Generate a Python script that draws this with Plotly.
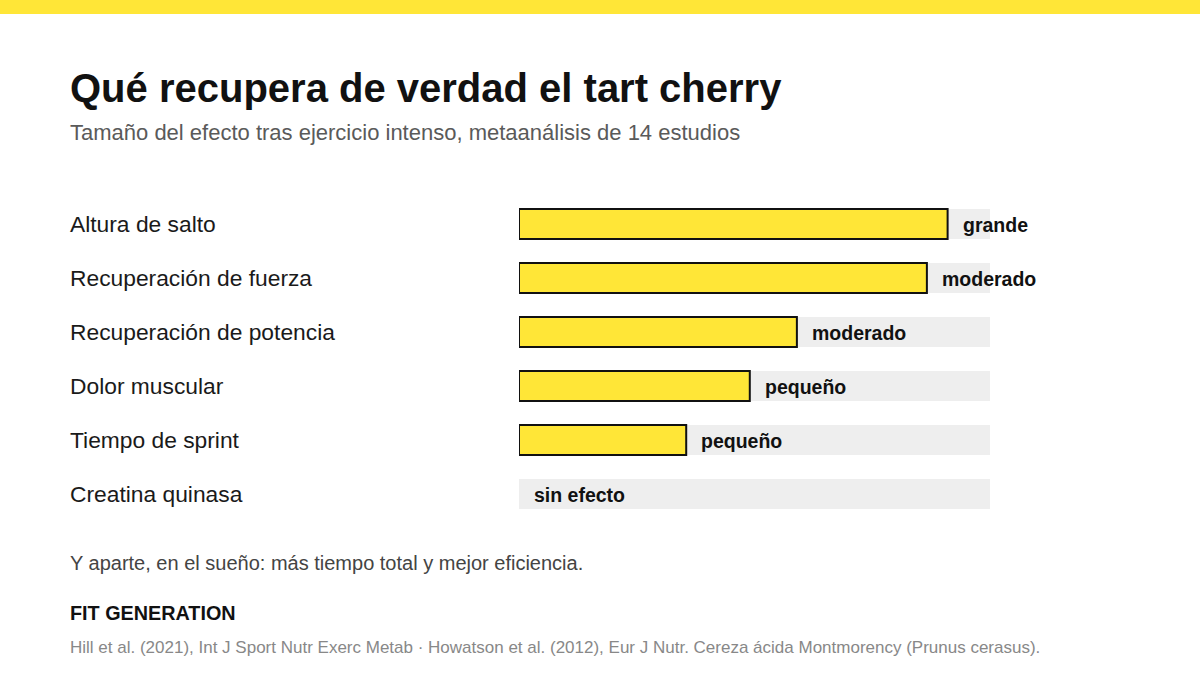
import plotly.graph_objects as go

# effect sizes as share of the full scale (track = 1.0)
categories = [
    "Altura de salto",
    "Recuperación de fuerza",
    "Recuperación de potencia",
    "Dolor muscular",
    "Tiempo de sprint",
    "Creatina quinasa",
]
effect = [0.91, 0.866, 0.59, 0.49, 0.355, 0.0]
effect_labels = ["grande", "moderado", "moderado", "pequeño", "pequeño", "sin efecto"]
scale_max = 1.0

TITLE = "Qué recupera de verdad el tart cherry"
SUBTITLE = "Tamaño del efecto tras ejercicio intenso, metaanálisis de 14 estudios"
NOTE = "Y aparte, en el sueño: más tiempo total y mejor eficiencia."
BRAND = "FIT GENERATION"
SOURCE = ("Hill et al. (2021), Int J Sport Nutr Exerc Metab · Howatson et al. (2012), "
          "Eur J Nutr. Cereza ácida Montmorency (Prunus cerasus).")

YELLOW = "#FFE637"
FONT = "Liberation Sans, Arial, Helvetica, sans-serif"
W, H = 1200, 700
LEFT = 68  # text column, px


def px_x(v):
    return v / W


def px_y(v):
    return 1 - v / H


fig = go.Figure()

# grey track
fig.add_trace(go.Bar(
    y=categories, x=[scale_max] * len(categories), orientation="h",
    marker=dict(color="#EEEEEE", line=dict(width=0)),
    hoverinfo="skip", showlegend=False,
))
# effect bars
fig.add_trace(go.Bar(
    y=categories, x=effect, orientation="h",
    marker=dict(color=YELLOW,
                line=dict(color="#111111", width=[2 if v > 0 else 0 for v in effect])),
    showlegend=False,
))

annotations = []
for cat, v, lab in zip(categories, effect, effect_labels):
    annotations.append(dict(
        x=v, y=cat, xref="x", yref="y", text=f"<b>{lab}</b>",
        xanchor="left", yanchor="middle", xshift=13, yshift=-1,
        showarrow=False, font=dict(family=FONT, size=19.5, color="#111111"),
    ))
    annotations.append(dict(
        x=px_x(LEFT), y=cat, xref="paper", yref="y", text=cat,
        xanchor="left", yanchor="middle", showarrow=False,
        font=dict(family=FONT, size=22.8, color="#1a1a1a"),
    ))

annotations += [
    dict(x=px_x(LEFT), y=px_y(88), xref="paper", yref="paper", text=f"<b>{TITLE}</b>",
         xanchor="left", yanchor="middle", showarrow=False,
         font=dict(family=FONT, size=40, color="#111111")),
    dict(x=px_x(LEFT), y=px_y(132), xref="paper", yref="paper", text=SUBTITLE,
         xanchor="left", yanchor="middle", showarrow=False,
         font=dict(family=FONT, size=22, color="#5a5a5a")),
    dict(x=px_x(LEFT), y=px_y(563), xref="paper", yref="paper", text=NOTE,
         xanchor="left", yanchor="middle", showarrow=False,
         font=dict(family=FONT, size=20, color="#444444")),
    dict(x=px_x(LEFT), y=px_y(613), xref="paper", yref="paper", text=f"<b>{BRAND}</b>",
         xanchor="left", yanchor="middle", showarrow=False,
         font=dict(family=FONT, size=19.8, color="#111111")),
    dict(x=px_x(LEFT), y=px_y(647), xref="paper", yref="paper", text=SOURCE,
         xanchor="left", yanchor="middle", showarrow=False,
         font=dict(family=FONT, size=17, color="#888888")),
]

fig.update_layout(
    width=W, height=H,
    margin=dict(l=0, r=0, t=0, b=0),
    paper_bgcolor="white", plot_bgcolor="white",
    barmode="overlay", bargap=0.444,
    font=dict(family=FONT),
    annotations=annotations,
    shapes=[dict(type="rect", xref="paper", yref="paper", x0=0, x1=1,
                 y0=px_y(14), y1=1, fillcolor=YELLOW, line=dict(width=0))],
)
fig.update_xaxes(range=[0, scale_max], domain=[px_x(519), px_x(990)],
                 showgrid=False, zeroline=False, showticklabels=False, fixedrange=True)
fig.update_yaxes(autorange="reversed", domain=[px_y(521), px_y(197)],
                 showgrid=False, zeroline=False, showticklabels=False, fixedrange=True)

# drop the default page margin so the figure sits at the window's corner
fig.write_html("out.html", config={"displayModeBar": False},
               post_script="document.body.style.margin='0';")
